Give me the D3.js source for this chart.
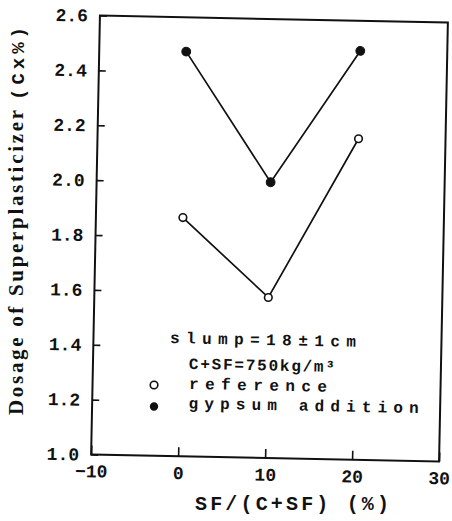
<!DOCTYPE html>
<html>
<head>
<meta charset="utf-8">
<script src="https://cdn.jsdelivr.net/npm/d3@7"></script>
<style>
  html, body { margin: 0; padding: 0; background: #fff; }
  svg { display: block; }
  .mono { font-family: "Liberation Mono", "DejaVu Sans Mono", monospace; font-weight: bold; fill: #111; }
  .serif { font-family: "Liberation Serif", "DejaVu Serif", serif; font-weight: bold; fill: #111; }
</style>
</head>
<body>
<svg id="chart" width="452" height="521"></svg>
<script>
// SF replacement level, % of total binder
const sfLevels = [0, 10, 20];
// superplasticizer dosage (% of cement mass) for each series
const referenceDosage = [1.87, 1.585, 2.17];
const gypsumDosage = [2.475, 2.005, 2.49];
const seriesNames = ["reference", "gypsum addition"];
const xTicks = [-10, 0, 10, 20, 30];
const yTicks = [1.0, 1.2, 1.4, 1.6, 1.8, 2.0, 2.2, 2.4, 2.6];

const svg = d3.select("#chart");
const plot = { left: 95.5, right: 443.5, top: 19, bottom: 458 };

const x = d3.scaleLinear().domain([-10, 30]).range([plot.left, plot.right]);
const y = d3.scaleLinear().domain([1.0, 2.6]).range([plot.bottom, plot.top]);

// the printed figure sits slightly tilted on the page
const g = svg.append("g").attr("transform", "rotate(1.15, 269.5, 238.5)");

// frame
g.append("rect")
  .attr("x", plot.left).attr("y", plot.top)
  .attr("width", plot.right - plot.left).attr("height", plot.bottom - plot.top)
  .attr("fill", "none").attr("stroke", "#111").attr("stroke-width", 2);

// left axis: inward ticks, labels
const yAxis = d3.axisLeft(y).tickValues(yTicks).tickSizeInner(-7).tickSizeOuter(0)
  .tickPadding(12).tickFormat(d3.format(".1f"));
const ya = g.append("g").attr("transform", `translate(${plot.left},0)`).call(yAxis);
ya.select(".domain").remove();
ya.selectAll(".tick line").attr("stroke", "#111").attr("stroke-width", 1.6);
ya.selectAll(".tick text")
  .attr("class", "mono").attr("font-size", 18).attr("fill", "#111")
  .attr("dy", "0.32em");

// bottom axis
const xAxis = d3.axisBottom(x).tickValues(xTicks).tickSizeInner(-9).tickSizeOuter(0)
  .tickPadding(12).tickFormat(d => d < 0 ? "\u2212" + Math.abs(d) : String(d));
const xa = g.append("g").attr("transform", `translate(0,${plot.bottom})`).call(xAxis);
xa.select(".domain").remove();
xa.selectAll(".tick line").attr("stroke", "#111").attr("stroke-width", 1.6);
xa.selectAll(".tick text")
  .attr("class", "mono").attr("font-size", 18).attr("fill", "#111").attr("dy", "0.6em");

// series
const line = d3.line().x(d => x(d[0])).y(d => y(d[1]));
const refPts = sfLevels.map((s, i) => [s, referenceDosage[i]]);
const gypPts = sfLevels.map((s, i) => [s, gypsumDosage[i]]);

[refPts, gypPts].forEach(pts => {
  g.append("path").datum(pts).attr("d", line)
    .attr("fill", "none").attr("stroke", "#111").attr("stroke-width", 1.7);
});

g.selectAll("circle.ref").data(refPts).join("circle")
  .attr("class", "ref")
  .attr("cx", d => x(d[0])).attr("cy", d => y(d[1])).attr("r", 3.8)
  .attr("fill", "#fff").attr("stroke", "#111").attr("stroke-width", 1.6);

g.selectAll("circle.gyp").data(gypPts).join("circle")
  .attr("class", "gyp")
  .attr("cx", d => x(d[0])).attr("cy", d => y(d[1])).attr("r", 4.4)
  .attr("fill", "#111").attr("stroke", "#111").attr("stroke-width", 1);

// annotation and legend
const note = g.append("g");
note.append("text").attr("class", "mono").attr("font-size", 16)
  .attr("x", 172).attr("y", 345).attr("textLength", 186).attr("lengthAdjust", "spacing")
  .text("slump=18\u00b11cm");
note.append("text").attr("class", "mono").attr("font-size", 16)
  .attr("x", 191.5).attr("y", 370.5).attr("textLength", 146).attr("lengthAdjust", "spacing")
  .text("C+SF=750kg/m\u00b3");
note.append("circle").attr("cx", 157).attr("cy", 387.3).attr("r", 3.8)
  .attr("fill", "#fff").attr("stroke", "#111").attr("stroke-width", 1.6);
note.append("circle").attr("cx", 157.4).attr("cy", 408.8).attr("r", 4.2)
  .attr("fill", "#111");
note.selectAll("text.leg").data(seriesNames).join("text")
  .attr("class", "mono leg").attr("font-size", 16)
  .attr("x", 192).attr("y", (d, i) => i === 0 ? 390.5 : 410)
  .attr("textLength", (d, i) => i === 0 ? 138 : 230).attr("lengthAdjust", "spacing")
  .text(d => d);

// axis titles
svg.append("text").attr("class", "mono").attr("font-size", 20)
  .attr("x", 195).attr("y", 510).attr("textLength", 194).attr("lengthAdjust", "spacing")
  .text("SF/(C+SF) (%)");

const yt = svg.append("g").attr("transform", "translate(23,0) rotate(-90)");
yt.append("text").attr("class", "serif").attr("font-size", 21)
  .attr("x", -415).attr("y", 0).attr("textLength", 305).attr("lengthAdjust", "spacing")
  .text("Dosage of Superplasticizer");
yt.append("text").attr("class", "mono").attr("font-size", 19)
  .attr("x", -100).attr("y", 1).attr("textLength", 73).attr("lengthAdjust", "spacing")
  .text("(Cx%)");
</script>
</body>
</html>
